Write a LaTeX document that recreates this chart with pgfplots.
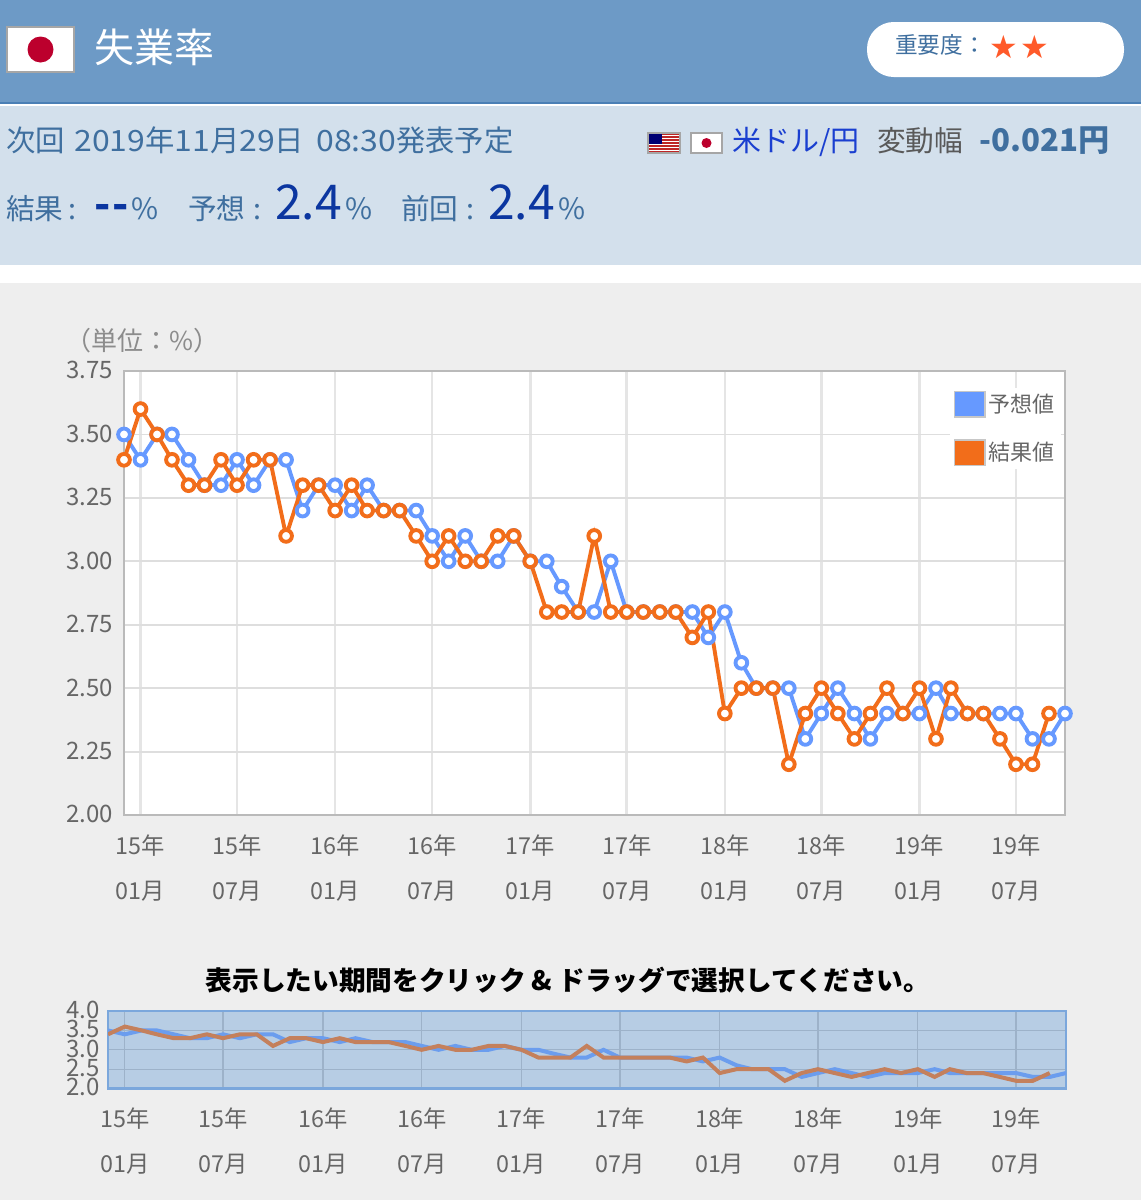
\documentclass[border=0pt]{standalone}
\usepackage{pgfplots}
\usepackage{pgfplotstable}
\usepackage{fontspec}
\pgfplotsset{compat=1.18}
\setmainfont{Noto Sans CJK JP}
\newfontfamily\dejavu{DejaVu Sans}
\newfontfamily\wdg[FakeStretch=1.09]{Noto Sans CJK JP}
\newcommand{\dg}[1]{{\wdg #1}}
\definecolor{hdr}{HTML}{6D9AC6}
\definecolor{hdrline}{HTML}{4A7FB5}
\definecolor{pale}{HTML}{D3E0EC}
\definecolor{panel}{HTML}{EEEEEE}
\definecolor{txtblue}{HTML}{3F6F9F}
\definecolor{numblue}{HTML}{0B36A0}
\definecolor{linkblue}{HTML}{1A3FD0}
\definecolor{fcblue}{HTML}{6699FF}
\definecolor{resor}{HTML}{F26D1A}
\definecolor{gridc}{HTML}{DEDEDE}
\definecolor{ticktxt}{HTML}{666666}
\definecolor{selfill}{HTML}{B7CDE4}
\definecolor{selgrid}{HTML}{9DB2C9}
\definecolor{selbord}{HTML}{7BA7DC}
\definecolor{selblue}{HTML}{6B9DEE}
\definecolor{selor}{HTML}{C4805C}
\definecolor{star}{HTML}{FF5A2A}
\definecolor{jpred}{HTML}{BC002D}
\pgfplotstableread{
day fc res
0 3.5 3.4
31 3.4 3.6
62 3.5 3.5
90 3.5 3.4
121 3.4 3.3
151 3.3 3.3
182 3.3 3.4
212 3.4 3.3
243 3.3 3.4
274 3.4 3.4
304 3.4 3.1
335 3.2 3.3
365 3.3 3.3
396 3.3 3.2
427 3.2 3.3
456 3.3 3.2
487 3.2 3.2
517 3.2 3.2
548 3.2 3.1
578 3.1 3.0
609 3.0 3.1
640 3.1 3.0
670 3.0 3.0
701 3.0 3.1
731 3.1 3.1
762 3.0 3.0
793 3.0 2.8
821 2.9 2.8
852 2.8 2.8
882 2.8 3.1
913 3.0 2.8
943 2.8 2.8
974 2.8 2.8
1005 2.8 2.8
1035 2.8 2.8
1066 2.8 2.7
1096 2.7 2.8
1127 2.8 2.4
1158 2.6 2.5
1186 2.5 2.5
1217 2.5 2.5
1247 2.5 2.2
1278 2.3 2.4
1308 2.4 2.5
1339 2.5 2.4
1370 2.4 2.3
1400 2.3 2.4
1431 2.4 2.5
1461 2.4 2.4
1492 2.4 2.5
1523 2.5 2.3
1551 2.4 2.5
1582 2.4 2.4
1612 2.4 2.4
1643 2.4 2.3
1673 2.4 2.2
1704 2.3 2.2
1735 2.3 2.4
1765 2.4 nan
}\uerate
\newcommand{\fs}[1]{\fontsize{#1}{#1}\selectfont}
\begin{document}
\begin{tikzpicture}
\begin{scope}[x=.75pt,y=-.75pt]
\path[use as bounding box] (0,0) rectangle (1141,1200);
\fill[white] (0,0) rectangle (1141,1200);
\fill[hdr] (0,0) rectangle (1141,103);
\fill[hdrline] (0,102) rectangle (1141,104);
\fill[pale] (0,106) rectangle (1141,265);
\fill[panel] (0,283) rectangle (1141,1200);
% Japan flag large
\fill[white,draw=black!35,line width=1.2pt] (7,27) rectangle (74,72);
\fill[jpred] (40.5,49.5) circle[radius=13];
\node[anchor=base west,inner sep=0,text=white,font=\fs{30}] at (94,62) {失業率};
% pill
\fill[white,rounded corners=20pt] (867,22) rectangle (1124,77);
\node[anchor=base west,inner sep=0,text=txtblue,font=\fs{17}] at (895,53) {重要度：};
\node[anchor=center,inner sep=0,text=star,font=\dejavu\fs{24}] at (1004,47) {★};
\node[anchor=center,inner sep=0,text=star,font=\dejavu\fs{24}] at (1035,47) {★};
% info rows
\node[anchor=base west,inner sep=0,text=txtblue,font=\fs{22}] at (6,151) {次回};
\node[anchor=base west,inner sep=0,text=txtblue,font=\fs{22}] at (74,151) {\dg{2019}年\dg{11}月\dg{29}日};
\node[anchor=base west,inner sep=0,text=txtblue,font=\fs{22}] at (316,151) {\dg{08:30}発表予定};
% US flag
\fill[white] (648,133) rectangle (680,153);
\foreach \yy in {133,136,139,142,145,148,151}{\fill[red!70!black!85] (648,\yy) rectangle (680,\yy+1.6);}
\fill[blue!45!black] (648,133) rectangle (662,144);
\draw[black!35,line width=.8pt] (648,133) rectangle (680,153);
% Japan flag small
\fill[white,draw=black!35,line width=.8pt] (691,133) rectangle (722,153);
\fill[jpred] (706.5,143) circle[radius=5];
\node[anchor=base west,inner sep=0,text=linkblue,font=\fs{21.7}] at (732,151) {米ドル/円};
\node[anchor=base west,inner sep=0,text=black!65,font=\fs{21.5}] at (877,151) {変動幅};
\node[anchor=base west,inner sep=0,text=txtblue,font=\bfseries\fs{23.4}] at (979,151) {-0.021円};
\node[anchor=base west,inner sep=0,text=txtblue,font=\fs{21.5}] at (6,219) {結果};
\node[anchor=base west,inner sep=0,text=txtblue,font=\fs{21.5}] at (68,219) {:};
\node[anchor=base west,inner sep=0,text=numblue,font=\bfseries\fs{32}] at (94,219) {-\kern1.5pt-};
\node[anchor=base west,inner sep=0,text=txtblue,font=\fs{22}] at (131,219) {\%};
\node[anchor=base west,inner sep=0,text=txtblue,font=\fs{21.5}] at (188,219) {予想};
\node[anchor=base west,inner sep=0,text=txtblue,font=\fs{21.5}] at (253,219) {:};
\node[anchor=base west,inner sep=0,text=numblue,font=\fs{36}] at (275,219) {2.4};
\node[anchor=base west,inner sep=0,text=txtblue,font=\fs{22}] at (345,219) {\%};
\node[anchor=base west,inner sep=0,text=txtblue,font=\fs{21.5}] at (401,219) {前回};
\node[anchor=base west,inner sep=0,text=txtblue,font=\fs{21.5}] at (466,219) {:};
\node[anchor=base west,inner sep=0,text=numblue,font=\fs{36}] at (488,219) {2.4};
\node[anchor=base west,inner sep=0,text=txtblue,font=\fs{22}] at (558,219) {\%};
\node[anchor=base west,inner sep=0,text=black!45,font=\fs{19.5}] at (65,350) {（単位：\%）};
\node[anchor=base,inner sep=0,text=black,font=\bfseries\fs{20}] at (568,990) {表示したい期間をクリック \& ドラッグで選択してください。};
\end{scope}
% main chart
\begin{axis}[
  at={(93pt,-611.25pt)},anchor=south west,
  scale only axis,width=705.75pt,height=333pt,
  xmin=0,xmax=1765,ymin=2,ymax=3.75,clip=false,
  axis background/.style={fill=white},
  axis line style={draw=black!27,line width=1.5pt},
  xtick={31,212,396,578,762,943,1127,1308,1492,1673},
  xticklabels={{15年\\01月},{15年\\07月},{16年\\01月},{16年\\07月},{17年\\01月},{17年\\07月},{18年\\01月},{18年\\07月},{19年\\01月},{19年\\07月}},
  ytick={2,2.25,2.5,2.75,3,3.25,3.5,3.75},
  tick style={draw=none},major tick length=0pt,
  ticklabel style={text=ticktxt},
  yticklabel style={font=\fs{18},inner sep=0pt,xshift=-8pt,yshift=.5pt,/pgf/number format/fixed,/pgf/number format/fixed zerofill,/pgf/number format/precision=2,/pgf/number format/assume math mode=true},
  xticklabel style={font=\fontsize{17.5}{33.75}\selectfont,align=center,inner sep=0pt,yshift=-14.5pt},
  xmajorgrids,ymajorgrids,
  x grid style={draw=gridc!80,line width=2pt},
  y grid style={draw=gridc,line width=1.4pt},
  legend cell align=left,
  legend style={at={(1.0,0.98)},anchor=north east,xshift=-2.5pt,yshift=-6pt,draw=none,fill=white,
    font=\fs{16.5},text=ticktxt,row sep=16pt,inner xsep=3pt,inner ysep=2pt},
]
\addplot[fcblue,line width=2.9pt,mark=*,mark size=4.4pt,mark options={fill=white,draw=fcblue,line width=2.9pt},
  legend image code/.code={\fill[white,draw=black!22,line width=1.3pt] (-1pt,-9.5pt) rectangle (22pt,9.5pt);\fill[fcblue] (1pt,-7.5pt) rectangle (20pt,7.5pt);}]
  table[x=day,y=fc]{\uerate};
\addlegendentry{予想値}
\addplot[resor,line width=2.9pt,mark=*,mark size=4.4pt,mark options={fill=white,draw=resor,line width=2.9pt},
  legend image code/.code={\fill[white,draw=black!22,line width=1.3pt] (-1pt,-9.5pt) rectangle (22pt,9.5pt);\fill[resor] (1pt,-7.5pt) rectangle (20pt,7.5pt);}]
  table[x=day,y=res]{\uerate};
\addlegendentry{結果値}
\end{axis}
% overview chart
\begin{axis}[
  at={(81pt,-816.4pt)},anchor=south west,
  scale only axis,width=718.5pt,height=58.1pt,
  xmin=0,xmax=1765,ymin=2,ymax=4,
  axis background/.style={fill=selfill},
  axis line style={draw=selbord,line width=1.8pt},
  xtick={31,212,396,578,762,943,1127,1308,1492,1673},
  xticklabels={{15年\\01月},{15年\\07月},{16年\\01月},{16年\\07月},{17年\\01月},{17年\\07月},{18年\\01月},{18年\\07月},{19年\\01月},{19年\\07月}},
  ytick={2,2.5,3,3.5,4},
  tick style={draw=none},major tick length=0pt,
  ticklabel style={text=ticktxt},
  yticklabel style={font=\fs{18},inner sep=0pt,xshift=-6pt,yshift=1pt,text height=13pt,text depth=0pt,/pgf/number format/fixed,/pgf/number format/fixed zerofill,/pgf/number format/precision=1,/pgf/number format/assume math mode=true},
  xticklabel style={font=\fontsize{17.5}{33.75}\selectfont,align=center,inner sep=0pt,yshift=-14pt},
  xmajorgrids,ymajorgrids,
  x grid style={draw=selgrid,line width=1pt},
  y grid style={draw=selgrid,line width=1pt},
]
\addplot[selblue,line width=3pt] table[x=day,y=fc]{\uerate};
\addplot[selor,line width=3pt] table[x=day,y=res]{\uerate};
\end{axis}
\end{tikzpicture}
\end{document}
